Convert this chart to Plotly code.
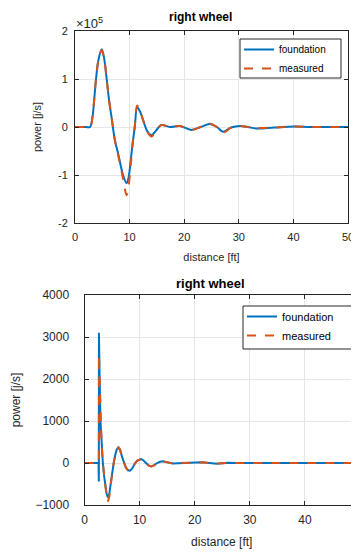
import plotly.graph_objects as go

# ---------------- data ----------------
# top panel: power [J/s] vs distance [ft]
top_x = [0, 2.0, 2.75, 3.2, 3.5, 3.85, 4.3, 4.9, 5.35, 5.8, 6.25, 6.7, 7.3, 7.9, 8.8, 9.45,
         9.8, 10.2, 10.6, 10.95, 11.4, 12.0, 12.6, 13.2, 14.0, 14.8, 15.8, 17.4, 19.2, 21.3,
         23.0, 24.7, 26.0, 27.1, 28.6, 30.2, 31.7, 33.2, 36.5, 40.2, 43, 46, 50]
top_foundation = [0, 0, 0, 0.2e5, 0.55e5, 1.0e5, 1.4e5, 1.62e5, 1.42e5, 1.0e5, 0.55e5, 0.2e5,
                  -0.27e5, -0.55e5, -1.0e5, -1.17e5, -1.06e5, -0.7e5, -0.3e5, 0.0, 0.41e5,
                  0.3e5, 0.1e5, -0.08e5, -0.17e5, -0.08e5, 0.04e5, 0.0, 0.02e5, -0.06e5, 0.0,
                  0.06e5, 0.0, -0.1e5, -0.01e5, 0.02e5, 0.0, -0.03e5, -0.01e5, 0.01e5, 0, 0, 0]
top_measured = [0, 0, 0, 0.2e5, 0.55e5, 1.0e5, 1.4e5, 1.6e5, 1.42e5, 1.0e5, 0.55e5, 0.2e5,
                -0.27e5, -0.58e5, -1.08e5, -1.42e5, -1.25e5, -0.8e5, -0.3e5, 0.02e5, 0.45e5,
                0.3e5, 0.1e5, -0.09e5, -0.2e5, -0.09e5, 0.04e5, 0.0, 0.02e5, -0.06e5, 0.0,
                0.07e5, 0.0, -0.12e5, -0.01e5, 0.02e5, 0.0, -0.02e5, -0.01e5, 0.01e5, 0, 0, 0]

# bottom panel
bot_x = [0, 1, 2, 2.55, 2.6, 2.62, 2.75, 2.9, 3.1, 3.33, 3.55, 3.8, 4.0, 4.24, 4.5, 4.8, 5.05,
         5.3, 5.6, 5.85, 6.15, 6.45, 6.8, 7.1, 7.5, 7.9, 8.25, 8.6, 8.9, 9.2, 9.6, 10.0, 10.3,
         10.7, 11.2, 11.6, 12.1, 12.6, 13.2, 13.7, 14.2, 14.7, 15.2, 16.0, 17.0, 18.5, 20.0,
         21.4, 22.7, 24.0, 25.0, 26.0, 27.5, 30, 35, 40, 45, 50]
bot_foundation = [0, 0, 0, 0, -440, 3100, 2000, 1000, 450, 0, -300, -560, -720, -820, -740,
                  -450, -200, 0, 200, 320, 370, 320, 150, 20, -110, -175, -185, -140, -60, 0,
                  60, 90, 95, 60, 0, -55, -80, -55, 0, 30, 40, 25, 0, -10, -5, 5, 10, 15, 0,
                  -15, -5, 5, 0, 0, 0, 0, 0, 0]
bot_measured = [0, 0, 0, 0, 0, 2580, 1800, 1000, 450, 0, -320, -600, -790, -920, -800,
                -480, -210, 0, 200, 320, 370, 320, 150, 20, -110, -175, -185, -140, -60, 0,
                60, 90, 95, 60, 0, -55, -80, -55, 0, 30, 40, 25, 0, -10, -5, 5, 10, 15, 0,
                -15, -5, 5, 0, 0, 0, 0, 0, 0]

x_ticks = [0, 10, 20, 30, 40, 50]
top_y_ticks = [-2e5, -1e5, 0, 1e5, 2e5]
top_y_ticktext = ["-2", "-1", "0", "1", "2"]
bot_y_ticks = [-1000, 0, 1000, 2000, 3000, 4000]

# ---------------- figure ----------------
OFF = 8                      # page body margin
W, H = 359 - OFF, 552 - OFF  # figure size
BLUE = "#0072BD"
ORANGE = "#D95319"
AX = "#262626"
GRID = "#e6e6e6"
FONT = "Liberation Sans, Arial, sans-serif"

fig = go.Figure()
fig.add_trace(go.Scatter(x=top_x, y=top_foundation, name="foundation", mode="lines",
                         line=dict(color=BLUE, width=2, shape="spline"),
                         xaxis="x", yaxis="y", legend="legend"))
fig.add_trace(go.Scatter(x=top_x, y=top_measured, name="measured", mode="lines",
                         line=dict(color=ORANGE, width=2, dash="dash", shape="spline"),
                         xaxis="x", yaxis="y", legend="legend"))
fig.add_trace(go.Scatter(x=bot_x, y=bot_foundation, name="foundation", mode="lines",
                         line=dict(color=BLUE, width=2),
                         xaxis="x2", yaxis="y2", legend="legend2"))
fig.add_trace(go.Scatter(x=bot_x, y=bot_measured, name="measured", mode="lines",
                         line=dict(color=ORANGE, width=2, dash="dash"),
                         xaxis="x2", yaxis="y2", legend="legend2"))


def px_x(p):
    return (p - OFF) / W


def px_y(p):
    return 1 - (p - OFF) / H


common = dict(showline=True, linecolor=AX, linewidth=1, mirror="ticks", ticks="inside",
              ticklen=4, tickcolor=AX, showgrid=True, gridcolor=GRID, gridwidth=1,
              zeroline=False, automargin=False)

bot_right_px = 360.0
bot_left_px = 84.5
bot_xmax = 50 * (359 - bot_left_px) / (bot_right_px - bot_left_px)


def legend_box(x0, y0, x1, y1):
    return dict(type="rect", xref="paper", yref="paper", layer="above",
                x0=px_x(x0), x1=px_x(x1), y0=px_y(y1), y1=px_y(y0),
                fillcolor="white", line=dict(color=AX, width=1))


fig.update_layout(
    width=W, height=H, autosize=False,
    margin=dict(l=0, r=0, t=0, b=0),
    paper_bgcolor="white", plot_bgcolor="white",
    font=dict(family=FONT, color=AX),
    showlegend=True,
    xaxis=dict(domain=[px_x(75), px_x(348)], range=[0, 50], anchor="y",
               tickvals=x_ticks, tickfont=dict(size=11), ticklabelstandoff=4,
               title=dict(text="distance [ft]", font=dict(size=11), standoff=11), **common),
    yaxis=dict(domain=[px_y(223), px_y(31)], range=[-2e5, 2e5], anchor="x",
               tickvals=top_y_ticks, ticktext=top_y_ticktext, tickfont=dict(size=11),
               ticklabelstandoff=4,
               title=dict(text="power [j/s]", font=dict(size=11), standoff=14), **common),
    xaxis2=dict(domain=[px_x(bot_left_px), 1.0], range=[0, bot_xmax],
                anchor="y2", tickvals=x_ticks, tickfont=dict(size=12), ticklabelstandoff=4,
                title=dict(text="distance [ft]", font=dict(size=12), standoff=11), **common),
    yaxis2=dict(domain=[px_y(505), px_y(295)], range=[-1000, 4000], anchor="x2",
                tickvals=bot_y_ticks, tickfont=dict(size=12), ticklabelstandoff=12,
                title=dict(text="power [j/s]", font=dict(size=12), standoff=12), **common),
    legend=dict(x=px_x(239), y=px_y(35), xanchor="left", yanchor="top",
                bgcolor="rgba(0,0,0,0)", borderwidth=0,
                font=dict(size=10, color="#000000"), tracegroupgap=0),
    legend2=dict(x=px_x(242), y=px_y(302), xanchor="left", yanchor="top",
                 bgcolor="rgba(0,0,0,0)", borderwidth=0,
                 font=dict(size=11, color="#000000"), tracegroupgap=0),
    shapes=[legend_box(240, 39, 341, 78), legend_box(243, 306, 352, 349)],
    annotations=[
        dict(text="<b>right wheel</b>", x=px_x(200), y=px_y(17), xref="paper", yref="paper",
             showarrow=False, font=dict(size=12, color="#000000"), xanchor="center",
             yanchor="middle"),
        dict(text="<b>right wheel</b>", x=px_x(210), y=px_y(283), xref="paper", yref="paper",
             showarrow=False, font=dict(size=13, color="#000000"), xanchor="center",
             yanchor="middle"),
        dict(text="×10<sup>5</sup>", x=px_x(74), y=px_y(33), xref="paper", yref="paper",
             showarrow=False, font=dict(size=13, color=AX), xanchor="left",
             yanchor="bottom"),
        dict(text="50", x=px_x(bot_right_px), y=px_y(509), xref="paper", yref="paper",
             showarrow=False, font=dict(size=12, color=AX), xanchor="center",
             yanchor="top"),
    ],
)

fig.write_html("out.html")
